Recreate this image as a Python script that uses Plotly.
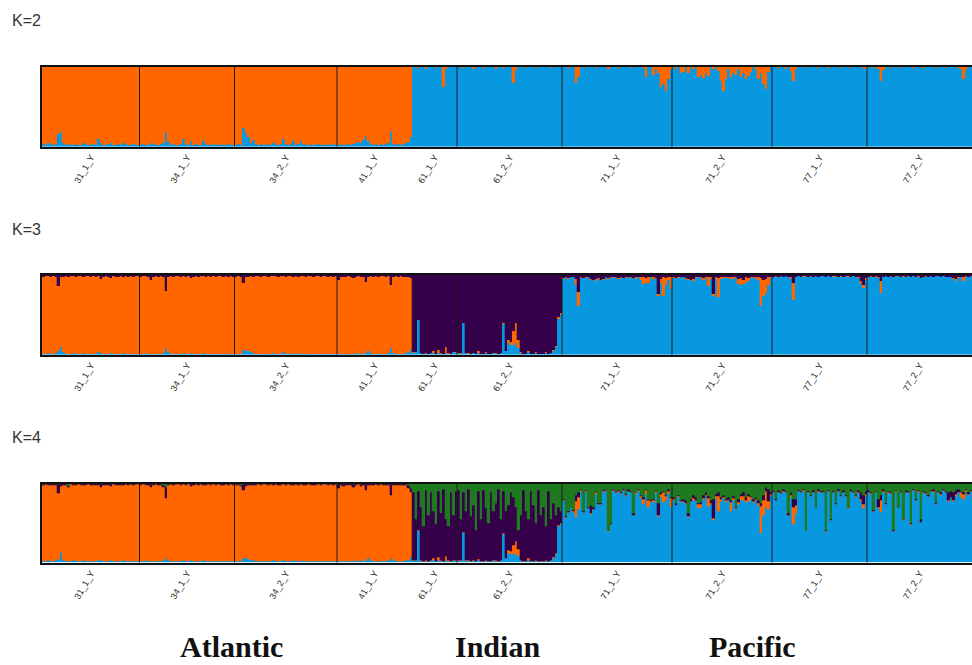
import plotly.graph_objects as go

# ---------------------------------------------------------------------------
# Sampling design
# ---------------------------------------------------------------------------
populations = ["31_1_Y", "34_1_Y", "34_2_Y", "41_1_Y", "61_1_Y",
               "61_2_Y", "71_1_Y", "71_2_Y", "77_1_Y", "77_2_Y"]
pop_sizes = [39, 38, 41, 30, 18, 42, 44, 40, 38, 42]
regions = ["Atlantic", "Indian", "Pacific"]
region_sizes = [148, 60, 164]
k_labels = ["K=2", "K=3", "K=4"]

# cluster palette, listed in stacking order (bottom -> top)
cluster_order = ["blue", "orange", "purple", "green"]
cluster_colors = {"blue": "#0898E0", "orange": "#FF6600",
                  "purple": "#35004A", "green": "#1F7A1F"}

# ---------------------------------------------------------------------------
# Membership coefficients (%), one value per individual
# ---------------------------------------------------------------------------
# K=2 : blue share per individual (orange = remainder)
k2_blue = [
    # 31_1_Y
    3, 2, 4, 3, 2, 3, 16, 18, 5, 2, 3, 2, 2, 3, 2, 2, 5, 3, 2, 2,
    3, 2, 9, 4, 2, 2, 3, 4, 2, 2, 3, 2, 4, 3, 2, 2, 3, 2, 2,
    # 34_1_Y
    2, 3, 2, 2, 4, 3, 2, 2, 3, 5, 18, 6, 2, 3, 2, 2, 3, 10, 3, 2,
    7, 2, 3, 2, 2, 7, 3, 2, 2, 3, 2, 2, 3, 2, 2, 3, 2, 2,
    # 34_2_Y
    2, 3, 2, 23, 17, 12, 4, 8, 3, 2, 3, 2, 2, 3, 2, 5, 3, 2, 3, 9,
    3, 2, 3, 7, 2, 3, 7, 3, 2, 2, 3, 2, 2, 3, 2, 2, 3, 2, 2, 3, 2,
    # 41_1_Y
    2, 3, 2, 2, 3, 2, 3, 5, 6, 4, 8, 13, 7, 3, 2, 3, 2, 3, 2, 3,
    4, 20, 3, 2, 3, 2, 3, 4, 6, 12,
    # 61_1_Y
    100, 100, 99, 100, 100, 98, 100, 100, 100, 99, 100, 100, 75, 97, 100, 100, 100, 100,
    # 61_2_Y
    100, 100, 99, 100, 100, 100, 98, 100, 100, 100, 99, 100, 100, 100, 100, 98, 100, 100, 99, 100,
    100, 100, 80, 96, 100, 100, 100, 99, 100, 100, 100, 99, 100, 100, 100, 100, 100, 99, 100, 100,
    100, 100,
    # 71_1_Y
    100, 100, 99, 100, 100, 80, 88, 100, 100, 99, 100, 100, 100, 99, 100, 100, 100, 100, 98, 100,
    100, 100, 99, 100, 100, 100, 100, 99, 100, 100, 100, 100, 99, 88, 100, 100, 90, 97, 92, 75,
    78, 70, 85, 96,
    # 71_2_Y
    100, 98, 100, 92, 94, 100, 92, 100, 98, 100, 88, 90, 86, 92, 89, 100, 98, 100, 95, 82,
    70, 85, 98, 88, 92, 90, 97, 88, 92, 85, 89, 94, 100, 96, 85, 92, 78, 72, 94, 100,
    # 77_1_Y
    100, 100, 99, 100, 100, 98, 100, 95, 82, 97, 100, 100, 100, 99, 100, 100, 100, 100, 99, 100,
    100, 100, 99, 100, 100, 100, 100, 99, 100, 100, 100, 99, 100, 100, 100, 100, 99, 98,
    # 77_2_Y
    100, 100, 99, 100, 97, 82, 96, 100, 100, 99, 100, 100, 100, 99, 100, 100, 100, 100, 99, 100,
    100, 100, 99, 100, 100, 100, 100, 99, 100, 100, 100, 99, 100, 100, 100, 100, 99, 98, 85, 96,
    100, 100,
]

# K=3, Atlantic (orange = remainder)
k3_atl_blue = [
    1, 1, 2, 1, 1, 2, 4, 10, 3, 1, 1, 1, 2, 1, 1, 1, 2, 1, 1, 1,
    1, 1, 3, 2, 1, 1, 1, 2, 1, 1, 1, 1, 2, 1, 1, 1, 1, 1, 1,
    1, 1, 2, 1, 1, 1, 1, 1, 1, 2, 8, 3, 1, 1, 1, 1, 1, 2, 1, 1,
    2, 1, 1, 1, 1, 2, 1, 1, 1, 1, 1, 1, 1, 1, 1, 1, 1, 1,
    1, 1, 1, 6, 5, 4, 3, 2, 1, 1, 1, 1, 1, 1, 1, 2, 1, 1, 1, 3,
    1, 1, 1, 2, 1, 1, 2, 1, 1, 1, 1, 1, 1, 1, 1, 1, 1, 1, 1, 1, 1,
    1, 1, 1, 1, 1, 1, 1, 2, 1, 2, 1, 2, 5, 2, 1, 1, 1, 1, 1, 1,
    2, 8, 2, 1, 1, 1, 1, 2, 3, 6,
]
k3_atl_purple = [
    2, 1, 1, 2, 1, 2, 14, 3, 3, 1, 2, 1, 1, 2, 1, 1, 2, 1, 1, 2,
    1, 2, 1, 5, 2, 1, 2, 4, 1, 2, 2, 1, 2, 1, 2, 1, 2, 1, 1,
    2, 1, 1, 2, 6, 2, 1, 2, 1, 2, 20, 2, 1, 2, 1, 1, 2, 1, 2, 1,
    4, 2, 1, 2, 1, 1, 2, 1, 2, 1, 2, 1, 1, 2, 1, 2, 1, 2,
    2, 1, 2, 10, 3, 2, 1, 2, 1, 1, 2, 1, 1, 2, 1, 1, 1, 2, 1, 1,
    2, 1, 1, 3, 1, 2, 1, 1, 2, 1, 1, 2, 1, 1, 2, 1, 1, 2, 1, 2, 1,
    6, 2, 3, 2, 1, 2, 4, 2, 1, 3, 2, 9, 2, 1, 2, 1, 2, 1, 1, 2,
    1, 12, 2, 1, 2, 1, 2, 2, 3, 4,
]
# K=3, Indian (purple = remainder)
k3_ind_blue = [
    2, 3, 43, 2, 1, 1, 1, 2, 2, 1, 2, 1, 1, 2, 1, 1, 3, 2,
    2, 1, 40, 2, 1, 1, 2, 1, 2, 1, 1, 2, 1, 1, 2, 1, 1, 2, 38, 5,
    15, 12, 12, 15, 8, 2, 1, 1, 3, 1, 1, 2, 1, 1, 1, 2, 1, 2, 5, 10,
    45, 50,
]
k3_ind_orange = [
    1, 0, 1, 0, 0, 1, 0, 0, 3, 0, 4, 1, 0, 7, 1, 0, 0, 1,
    0, 1, 0, 0, 1, 0, 0, 0, 2, 0, 0, 1, 0, 0, 0, 1, 0, 0, 2, 0,
    3, 4, 18, 25, 10, 1, 0, 0, 2, 0, 0, 1, 0, 0, 0, 1, 0, 0, 1, 1,
    2, 2,
]
# K=3, Pacific (blue = remainder)
k3_pac_orange = [
    1, 0, 1, 0, 1, 8, 17, 1, 0, 1, 0, 1, 0, 2, 1, 0, 1, 0, 1, 0,
    1, 0, 1, 1, 0, 1, 0, 1, 0, 2, 1, 3, 8, 6, 7, 1, 2, 1, 2, 5,
    24, 8, 3, 15,
    1, 0, 1, 1, 0, 1, 1, 0, 2, 1, 0, 1, 2, 1, 12, 2, 3, 2, 24, 3,
    1, 2, 1, 3, 2, 1, 6, 8, 5, 7, 3, 2, 1, 2, 3, 35, 20, 18, 10, 2,
    0, 1, 0, 0, 1, 0, 1, 2, 22, 1, 0, 0, 1, 0, 0, 1, 0, 0, 1, 0,
    0, 1, 0, 0, 1, 0, 0, 1, 0, 0, 1, 0, 0, 1, 1, 3, 4, 2,
    0, 1, 0, 1, 2, 16, 1, 0, 1, 0, 0, 1, 0, 0, 1, 0, 0, 1, 0, 0,
    1, 0, 0, 1, 0, 0, 1, 0, 0, 1, 0, 0, 1, 0, 1, 2, 1, 1, 6, 2,
    1, 0,
]
k3_pac_purple = [
    4, 3, 4, 3, 2, 5, 22, 3, 4, 3, 2, 5, 6, 5, 4, 6, 5, 3, 4, 3,
    3, 2, 4, 3, 4, 3, 2, 3, 4, 3, 2, 3, 3, 4, 3, 2, 3, 4, 24, 5,
    3, 4, 3, 2,
    3, 4, 3, 2, 3, 4, 5, 6, 5, 3, 2, 3, 4, 3, 2, 3, 24, 3, 4, 2,
    3, 2, 3, 2, 3, 2, 5, 4, 6, 3, 4, 2, 3, 2, 3, 4, 6, 5, 3, 2,
    2, 1, 2, 1, 2, 1, 2, 3, 10, 2, 1, 2, 1, 1, 2, 1, 2, 1, 2, 1,
    1, 2, 1, 2, 1, 1, 2, 1, 2, 1, 1, 2, 1, 2, 3, 8, 12, 4,
    2, 1, 2, 1, 2, 7, 2, 1, 2, 1, 2, 1, 1, 2, 1, 2, 1, 2, 1, 2,
    1, 4, 2, 1, 2, 1, 2, 1, 1, 2, 1, 2, 2, 3, 4, 5, 3, 2, 2, 1,
    2, 1,
]

# K=4, Atlantic (orange = remainder)
k4_atl_blue = [
    1, 1, 2, 1, 1, 2, 4, 13, 3, 1, 1, 1, 2, 1, 1, 1, 2, 1, 1, 1,
    1, 1, 3, 2, 1, 1, 1, 2, 1, 1, 1, 1, 2, 1, 1, 1, 1, 1, 1,
    1, 1, 2, 1, 1, 1, 1, 1, 1, 2, 5, 3, 1, 1, 1, 1, 1, 2, 1, 1,
    2, 1, 1, 1, 1, 2, 1, 1, 1, 1, 1, 1, 1, 1, 1, 1, 1, 1,
    1, 1, 1, 5, 5, 4, 3, 2, 1, 1, 1, 1, 1, 1, 1, 2, 1, 1, 1, 3,
    1, 1, 1, 2, 1, 1, 2, 1, 1, 1, 1, 1, 1, 1, 1, 1, 1, 1, 1, 1, 1,
    1, 1, 1, 1, 1, 1, 1, 2, 1, 2, 1, 2, 5, 2, 1, 1, 1, 1, 1, 1,
    2, 5, 2, 1, 1, 1, 1, 2, 3, 6,
]
k4_atl_purple = [
    2, 1, 1, 2, 1, 2, 12, 3, 2, 1, 1, 1, 1, 2, 1, 1, 2, 1, 1, 2,
    1, 2, 1, 4, 2, 1, 2, 3, 1, 2, 2, 1, 2, 1, 2, 1, 2, 1, 1,
    2, 1, 1, 2, 4, 2, 1, 2, 1, 2, 14, 2, 1, 2, 1, 1, 2, 1, 2, 1,
    3, 2, 1, 2, 1, 1, 2, 1, 2, 1, 2, 1, 1, 2, 1, 2, 1, 2,
    2, 1, 2, 8, 3, 2, 1, 2, 1, 1, 2, 1, 1, 2, 1, 1, 1, 2, 1, 1,
    2, 1, 1, 3, 1, 2, 1, 1, 2, 1, 1, 2, 1, 1, 2, 1, 1, 2, 1, 2, 1,
    5, 2, 3, 2, 1, 2, 4, 2, 1, 3, 2, 8, 2, 1, 2, 1, 2, 1, 1, 2,
    1, 14, 2, 1, 2, 1, 2, 2, 3, 5,
]
k4_atl_green = [
    1, 0, 1, 0, 1, 1, 1, 1, 0, 1, 4, 0, 1, 0, 0, 1, 0, 1, 0, 0,
    1, 0, 1, 1, 0, 1, 0, 1, 0, 1, 0, 1, 0, 0, 1, 0, 1, 0, 0,
    1, 0, 1, 0, 1, 1, 0, 0, 1, 3, 5, 1, 0, 1, 0, 0, 1, 0, 1, 0,
    1, 0, 0, 1, 0, 1, 0, 0, 1, 0, 1, 0, 1, 0, 0, 1, 0, 1,
    1, 1, 2, 1, 1, 0, 1, 0, 1, 0, 1, 0, 0, 1, 0, 1, 0, 0, 1, 0,
    1, 0, 1, 0, 0, 1, 0, 1, 0, 0, 1, 0, 1, 0, 1, 0, 0, 1, 0, 1, 0,
    1, 0, 1, 0, 1, 0, 1, 0, 0, 1, 0, 1, 0, 1, 0, 0, 1, 0, 1, 0,
    1, 1, 0, 1, 0, 1, 0, 1, 3, 6,
]
# K=4, Indian (purple = remainder)
k4_ind_blue = [
    2, 3, 40, 2, 1, 1, 1, 2, 2, 1, 2, 1, 1, 2, 1, 1, 3, 2,
    2, 1, 38, 2, 1, 1, 2, 1, 2, 1, 1, 2, 1, 1, 2, 1, 1, 2, 35, 5,
    12, 10, 10, 12, 8, 2, 1, 1, 3, 1, 1, 2, 1, 1, 1, 2, 1, 2, 5, 10,
    45, 48,
]
k4_ind_orange = [
    1, 0, 1, 0, 0, 1, 0, 0, 3, 0, 4, 1, 0, 6, 1, 0, 0, 1,
    0, 1, 0, 0, 1, 0, 0, 0, 2, 0, 0, 1, 0, 0, 0, 1, 0, 0, 2, 0,
    3, 4, 12, 15, 8, 1, 0, 0, 2, 0, 0, 1, 0, 0, 0, 1, 0, 0, 1, 1,
    2, 2,
]
k4_ind_green = [
    12, 45, 10, 30, 55, 9, 40, 11, 35, 52, 10, 38, 8, 45, 55, 12, 40, 10,
    9, 45, 11, 35, 8, 42, 28, 60, 10, 45, 9, 32, 50, 12, 35, 25, 8, 45, 10, 35,
    28, 11, 18, 30, 60, 40, 9, 35, 45, 10, 28, 50, 9, 40, 30, 55, 10, 45, 25, 40,
    30, 35,
]
# K=4, Pacific (blue = remainder)
k4_pac_orange = [
    0, 1, 0, 0, 1, 20, 15, 1, 0, 1, 0, 1, 0, 2, 1, 0, 1, 0, 1, 0,
    1, 0, 1, 1, 0, 1, 0, 1, 0, 2, 1, 3, 6, 5, 8, 1, 2, 1, 2, 4,
    12, 6, 3, 12,
    1, 0, 1, 1, 0, 1, 1, 0, 2, 1, 5, 4, 1, 1, 10, 2, 3, 2, 20, 3,
    1, 2, 1, 12, 2, 1, 3, 5, 4, 3, 6, 2, 1, 2, 3, 34, 20, 20, 10, 2,
    0, 1, 0, 0, 1, 0, 1, 3, 22, 10, 0, 0, 1, 0, 0, 1, 0, 0, 1, 0,
    0, 1, 0, 0, 1, 0, 0, 1, 0, 0, 1, 0, 0, 1, 1, 3, 5, 2,
    0, 1, 0, 1, 2, 16, 1, 0, 1, 0, 0, 1, 0, 0, 1, 0, 0, 1, 0, 0,
    1, 0, 0, 1, 0, 0, 1, 0, 0, 1, 0, 0, 1, 0, 1, 2, 1, 6, 6, 2,
    1, 0,
]
k4_pac_purple = [
    2, 1, 2, 1, 2, 8, 6, 1, 2, 1, 2, 10, 3, 2, 1, 2, 1, 2, 1, 2,
    1, 2, 1, 1, 2, 1, 2, 1, 2, 1, 2, 1, 2, 1, 2, 1, 2, 1, 15, 3,
    2, 1, 2, 1,
    2, 3, 2, 2, 3, 3, 4, 3, 4, 3, 2, 3, 4, 3, 2, 3, 24, 3, 4, 2,
    3, 2, 3, 2, 3, 2, 4, 3, 5, 3, 3, 2, 3, 2, 3, 4, 6, 5, 15, 2,
    2, 1, 2, 1, 2, 1, 2, 3, 10, 8, 1, 2, 1, 1, 2, 1, 2, 1, 2, 1,
    1, 2, 1, 2, 1, 1, 2, 1, 2, 1, 1, 2, 1, 2, 3, 8, 12, 4,
    2, 1, 2, 1, 10, 6, 2, 1, 2, 1, 2, 1, 1, 2, 1, 2, 1, 2, 1, 2,
    1, 3, 2, 1, 2, 1, 2, 1, 1, 2, 1, 2, 10, 8, 10, 5, 3, 2, 2, 1,
    2, 1,
]
k4_pac_green = [
    20, 42, 35, 30, 34, 15, 12, 8, 35, 9, 30, 28, 30, 10, 25, 25, 9, 7, 59, 50,
    8, 10, 9, 12, 7, 14, 8, 10, 38, 11, 7, 15, 18, 8, 20, 22, 20, 9, 25, 11,
    10, 15, 8, 18,
    18, 25, 15, 21, 20, 22, 38, 20, 15, 18, 25, 24, 15, 12, 17, 22, 20, 14, 12, 18,
    15, 20, 18, 22, 16, 30, 20, 14, 12, 18, 14, 16, 20, 18, 22, 25, 15, 5, 8, 12,
    10, 20, 9, 12, 8, 10, 38, 12, 20, 20, 9, 10, 8, 59, 10, 15, 9, 30, 8, 10,
    10, 59, 9, 45, 10, 25, 8, 15, 9, 15, 30, 8, 10, 15, 9, 12, 15, 10,
    9, 12, 34, 10, 20, 15, 8, 25, 10, 12, 59, 9, 30, 10, 45, 9, 10, 50, 8, 20,
    9, 46, 10, 12, 15, 9, 8, 25, 10, 12, 8, 10, 12, 10, 12, 9, 8, 10, 12, 8,
    12, 9,
]


# ---------------------------------------------------------------------------
# Assemble full membership tables (the major cluster of a region takes the
# remaining share of each individual)
# ---------------------------------------------------------------------------
def region_block(minor, major, size):
    for name, vals in minor.items():
        assert len(vals) == size, (name, len(vals), size)
    block = {name: list(vals) for name, vals in minor.items()}
    block[major] = [100 - sum(col) for col in zip(*minor.values())]
    return block


def assemble(blocks):
    table = {}
    for block in blocks:
        for name in block:
            table.setdefault(name, [])
    for block, size in zip(blocks, region_sizes):
        for name in table:
            table[name].extend(block.get(name, [0] * size))
    return table


n_total = sum(pop_sizes)
assert len(k2_blue) == n_total, len(k2_blue)
q_k2 = {"blue": k2_blue, "orange": [100 - v for v in k2_blue]}

q_k3 = assemble([
    region_block({"blue": k3_atl_blue, "purple": k3_atl_purple}, "orange", 148),
    region_block({"blue": k3_ind_blue, "orange": k3_ind_orange}, "purple", 60),
    region_block({"orange": k3_pac_orange, "purple": k3_pac_purple}, "blue", 164),
])
q_k4 = assemble([
    region_block({"blue": k4_atl_blue, "purple": k4_atl_purple,
                  "green": k4_atl_green}, "orange", 148),
    region_block({"blue": k4_ind_blue, "orange": k4_ind_orange,
                  "green": k4_ind_green}, "purple", 60),
    region_block({"orange": k4_pac_orange, "purple": k4_pac_purple,
                  "green": k4_pac_green}, "blue", 164),
])
tables = [q_k2, q_k3, q_k4]

# ---------------------------------------------------------------------------
# Figure
# ---------------------------------------------------------------------------
W, H = 972, 665
x_left = 42
panel_px = [(67, 146.5), (275, 354.5), (483.5, 562.5)]   # top, bottom
k_label_y = [20, 229, 437]

centers = [i + 0.5 for i in range(n_total)]
bounds = []
acc = 0
for s in pop_sizes:
    bounds.append((acc, acc + s))
    acc += s
tick_pos = [(a + b) / 2 for a, b in bounds]

fig = go.Figure()
shapes = []
annotations = []

for p, table in enumerate(tables):
    suffix = "" if p == 0 else str(p + 1)
    for name in cluster_order:
        if name not in table:
            continue
        fig.add_trace(go.Bar(
            x=centers, y=table[name], width=1.0,
            marker=dict(color=cluster_colors[name],
                        line=dict(width=0.3, color=cluster_colors[name])),
            xaxis="x" + suffix, yaxis="y" + suffix,
            hoverinfo="skip", showlegend=False,
        ))
    top, bot = panel_px[p]
    fig.layout["xaxis" + suffix] = dict(
        domain=[x_left / W, 1], range=[0, n_total], anchor="y" + suffix,
        showgrid=False, zeroline=False, showline=True, mirror=True,
        linecolor="#111111", linewidth=2, ticks="",
        tickmode="array", tickvals=tick_pos, ticktext=populations,
        tickangle=-60, tickfont=dict(family="Liberation Sans", size=9, color="#2a2a2a"),
        fixedrange=True,
    )
    fig.layout["yaxis" + suffix] = dict(
        domain=[1 - bot / H, 1 - top / H], range=[0, 100], anchor="x" + suffix,
        showgrid=False, zeroline=False, showline=True, mirror=False,
        linecolor="#111111", linewidth=2, showticklabels=False, ticks="",
        fixedrange=True,
    )
    # population separators
    for a, b in bounds[1:]:
        if a == region_sizes[0]:
            continue
        shapes.append(dict(type="line", xref="x" + suffix, yref="y" + suffix + " domain",
                           x0=a, x1=a, y0=0, y1=1,
                           line=dict(color="#1c1c1c", width=1)))
    annotations.append(dict(
        text=k_labels[p], xref="paper", yref="paper",
        x=10 / W, y=1 - k_label_y[p] / H, xanchor="left", yanchor="middle",
        showarrow=False, font=dict(family="Liberation Sans", size=16, color="#333333"),
    ))

# ocean basins
region_x = [231, 497, 752]
for name, xc in zip(regions, region_x):
    annotations.append(dict(
        text="<b>%s</b>" % name, xref="paper", yref="paper",
        x=xc / W, y=0, xanchor="center", yanchor="bottom",
        showarrow=False, font=dict(family="Liberation Serif", size=30, color="#111111"),
    ))

fig.update_layout(
    width=W, height=H, margin=dict(l=0, r=0, t=0, b=0),
    paper_bgcolor="white", plot_bgcolor="white",
    barmode="stack", bargap=0, shapes=shapes, annotations=annotations,
    showlegend=False,
)

fig.write_html("out.html", config={"displayModeBar": False})
